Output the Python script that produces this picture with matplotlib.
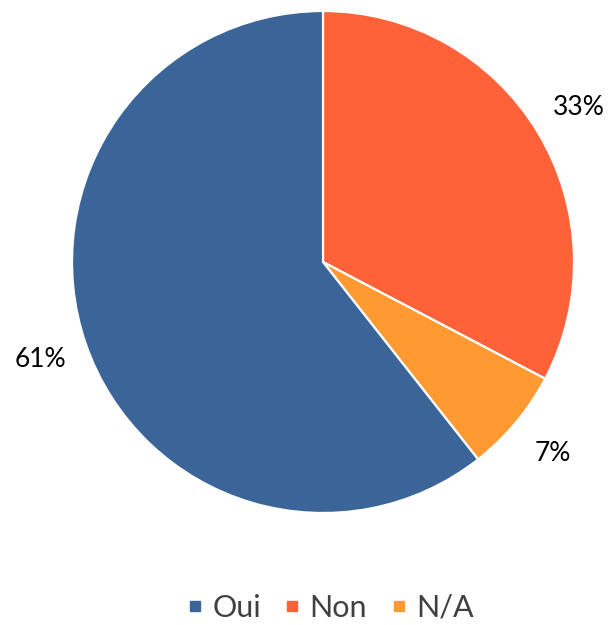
import matplotlib
matplotlib.use('Agg')
import matplotlib.pyplot as plt
from matplotlib.lines import Line2D

# values (clockwise from 12 o'clock: Non, N/A, Oui)
categories = ['Non', 'N/A', 'Oui']
values = [32.7, 6.7, 60.6]
colors = ['#FF6138', '#FF9A33', '#3B6599']
legend_order = ['Oui', 'Non', 'N/A']

plt.rcParams['font.family'] = ['Lato', 'DejaVu Sans']

fig = plt.figure(figsize=(6.13, 6.25), dpi=100)
ax = fig.add_axes([72 / 613, 112 / 625, 502 / 613, 502 / 625])

wedges, texts, autotexts = ax.pie(
    values, colors=colors, startangle=90, counterclock=False,
    autopct='%.0f%%', pctdistance=1.19,
    wedgeprops=dict(edgecolor='white', linewidth=1.6),
    textprops=dict(fontsize=19, color='black'))
ax.set_xlim(-1, 1)
ax.set_ylim(-1, 1)
ax.set_aspect('equal')

handles = []
for name in legend_order:
    c = colors[categories.index(name)]
    handles.append(Line2D([], [], marker='s', linestyle='none', markersize=7.5,
                          markerfacecolor=c, markeredgecolor=c, label=name))
fig.legend(handles=handles, loc='center', bbox_to_anchor=(330 / 613, 17 / 625),
           ncol=3, frameon=False, fontsize=22, handlelength=0.55,
           handletextpad=0.3, columnspacing=0.75, labelcolor='#404040')

fig.savefig('out.png', dpi=100)
